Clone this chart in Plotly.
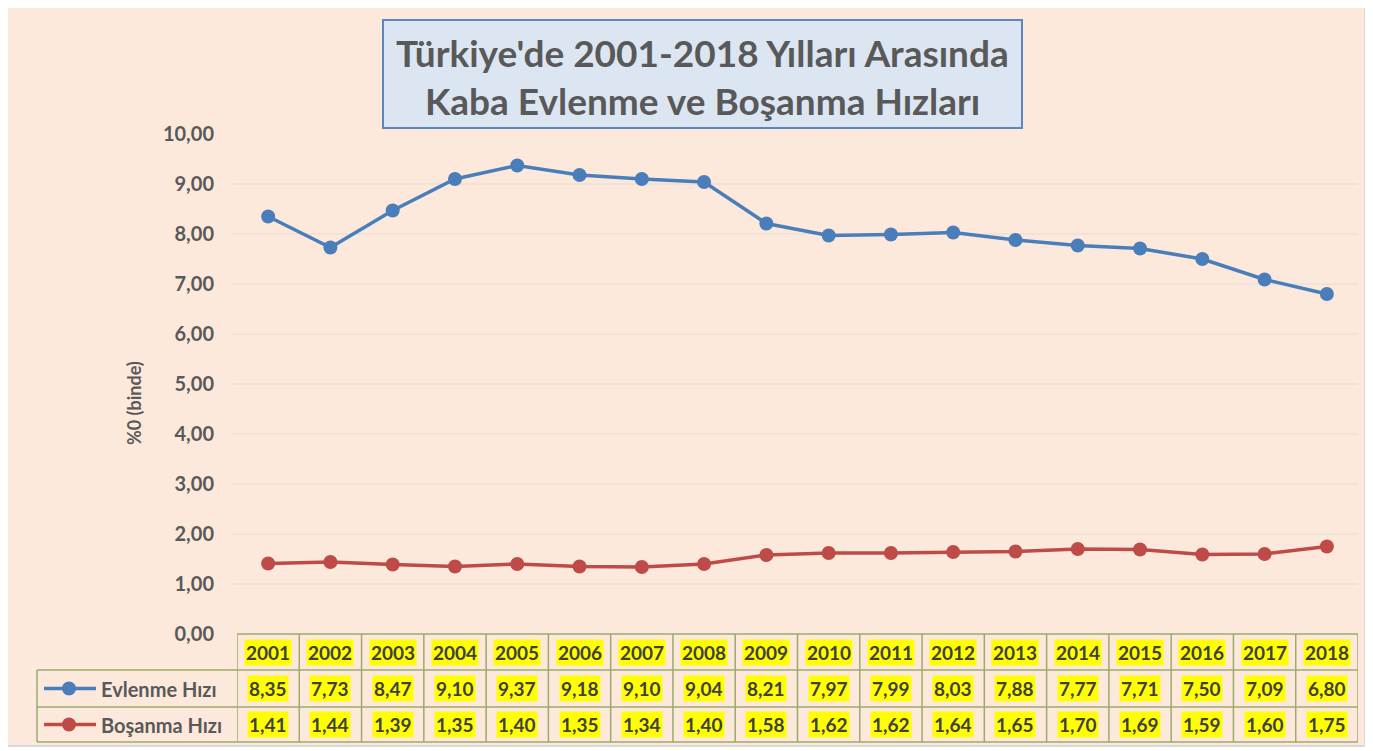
import plotly.graph_objects as go

years = [str(y) for y in range(2001, 2019)]
evlenme = [8.35, 7.73, 8.47, 9.10, 9.37, 9.18, 9.10, 9.04, 8.21, 7.97, 7.99, 8.03, 7.88, 7.77, 7.71, 7.50, 7.09, 6.80]
bosanma = [1.41, 1.44, 1.39, 1.35, 1.40, 1.35, 1.34, 1.40, 1.58, 1.62, 1.62, 1.64, 1.65, 1.70, 1.69, 1.59, 1.60, 1.75]
series_names = ["Evlenme Hızı", "Boşanma Hızı"]
series_colors = ["#4A7EBB", "#BE4B48"]
y_ticks = [0, 1, 2, 3, 4, 5, 6, 7, 8, 9, 10]
y_tick_labels = ["0,00", "1,00", "2,00", "3,00", "4,00", "5,00", "6,00", "7,00", "8,00", "9,00", "10,00"]
title_lines = ["Türkiye'de 2001-2018 Yılları Arasında", "Kaba Evlenme ve Boşanma Hızları"]
y_title = "%0 (binde)"

# page body margin offset (figure is drawn at 8,8 in the window)
OX, OY = 8, 8
W, H = 1373 - OX, 751 - OY
L, R, T, B = 237 - OX, 1358 - OX, 134 - OY, 634 - OY
FONT = "Lato"
TXT = "#404040"
GRID = "#E4DCD3"
TBL = "#9AAB6C"


def px(x):
    return (x - OX - L) / (R - L)


def py(y):
    return (B - (y - OY)) / (B - T)


def fmt(v):
    return f"{v:.2f}".replace(".", ",")


fig = go.Figure()
for name, vals, col in zip(series_names, [evlenme, bosanma], series_colors):
    fig.add_trace(go.Scatter(
        x=years, y=vals, name=name, mode="lines+markers",
        line=dict(color=col, width=3.5),
        marker=dict(color=col, size=14),
        showlegend=False, cliponaxis=False,
    ))

shapes = []
annotations = []

# chart background
shapes.append(dict(type="rect", xref="paper", yref="paper", layer="below",
                   x0=px(6), x1=px(1365), y0=py(746), y1=py(5),
                   fillcolor="#FDE9DB", line=dict(color="#D9D9D9", width=2)))
# gridlines
for t in y_ticks[1:-1]:
    shapes.append(dict(type="line", xref="paper", yref="y", layer="below",
                       x0=px(233), x1=1, y0=t, y1=t,
                       line=dict(color=GRID, width=1.2)))
# title box
shapes.append(dict(type="rect", xref="paper", yref="paper",
                   x0=px(383), x1=px(1022), y0=py(128), y1=py(20),
                   fillcolor="#DCE6F2", line=dict(color="#5B86C0", width=2)))
for i, line in enumerate(title_lines):
    annotations.append(dict(xref="paper", yref="paper", x=px(702.5), y=py(52 + i * 49),
                            text=f"<b>{line}</b>", showarrow=False,
                            font=dict(family=FONT, size=37, color="#595959"),
                            xanchor="center", yanchor="middle"))

# y-axis title
annotations.append(dict(xref="paper", yref="paper", x=px(134), y=py(403),
                        text=f"<b>{y_title}</b>", showarrow=False, textangle=-90,
                        font=dict(family=FONT, size=18, color="#595959"),
                        xanchor="center", yanchor="middle"))

# data table
rows_y = [634, 670, 707, 742]
shapes.append(dict(type="line", xref="x", yref="paper", x0=-0.5, x1=17.5,
                   y0=py(rows_y[0]), y1=py(rows_y[0]), line=dict(color=TBL, width=1.5)))
for ry in rows_y[1:]:
    shapes.append(dict(type="line", xref="paper", yref="paper", x0=px(37), x1=1,
                       y0=py(ry), y1=py(ry), line=dict(color=TBL, width=1.5)))
shapes.append(dict(type="line", xref="paper", yref="paper", x0=px(37), x1=px(37),
                   y0=py(rows_y[1]), y1=py(rows_y[3]), line=dict(color=TBL, width=1.5)))
for i in range(len(years) + 1):
    shapes.append(dict(type="line", xref="x", yref="paper", x0=i - 0.5, x1=i - 0.5,
                       y0=py(rows_y[0]), y1=py(rows_y[3]), line=dict(color=TBL, width=1.5)))

row_centers = [(rows_y[k] + rows_y[k + 1]) / 2 for k in range(3)]
for i, yr in enumerate(years):
    annotations.append(dict(xref="x", yref="paper", x=i, y=py(row_centers[0]),
                            text=f"<b>{yr}</b>", showarrow=False, bgcolor="#FFFF00",
                            borderpad=1, font=dict(family=FONT, size=19, color=TXT),
                            xanchor="center", yanchor="middle"))
for k, vals in enumerate([evlenme, bosanma]):
    for i, v in enumerate(vals):
        annotations.append(dict(xref="x", yref="paper", x=i, y=py(row_centers[k + 1]),
                                text=f"<b>{fmt(v)}</b>", showarrow=False, bgcolor="#FFFF00",
                                borderpad=1, font=dict(family=FONT, size=19, color=TXT),
                                xanchor="center", yanchor="middle"))

# legend keys inside table
for k, (name, col) in enumerate(zip(series_names, series_colors)):
    yc = py(row_centers[k + 1])
    shapes.append(dict(type="line", xref="paper", yref="paper", x0=px(44), x1=px(96),
                       y0=yc, y1=yc, line=dict(color=col, width=3.5)))
    shapes.append(dict(type="circle", xref="paper", yref="paper",
                       xsizemode="pixel", ysizemode="pixel",
                       xanchor=px(69), yanchor=yc, x0=-7, x1=7, y0=-7, y1=7,
                       fillcolor=col, line=dict(color=col, width=0)))
    annotations.append(dict(xref="paper", yref="paper", x=px(99), y=yc,
                            text=f"<b>{name}</b>", showarrow=False,
                            font=dict(family=FONT, size=20, color="#595959"),
                            xanchor="left", yanchor="middle"))

fig.update_layout(
    width=W, height=H,
    margin=dict(l=L, r=W - R, t=T, b=H - B, autoexpand=False),
    paper_bgcolor="white", plot_bgcolor="rgba(0,0,0,0)",
    shapes=shapes, annotations=annotations,
    xaxis=dict(type="category", range=[-0.5, 17.5], showticklabels=False,
               showgrid=False, zeroline=False, showline=False, ticks=""),
    yaxis=dict(range=[0, 10], tickvals=y_ticks, ticktext=[f"<b>{t}</b>" for t in y_tick_labels],
               showgrid=False, zeroline=False, showline=False, ticks="",
               ticklabelstandoff=22,
               tickfont=dict(family=FONT, size=20, color="#595959")),
)

fig.write_html("out.html")
